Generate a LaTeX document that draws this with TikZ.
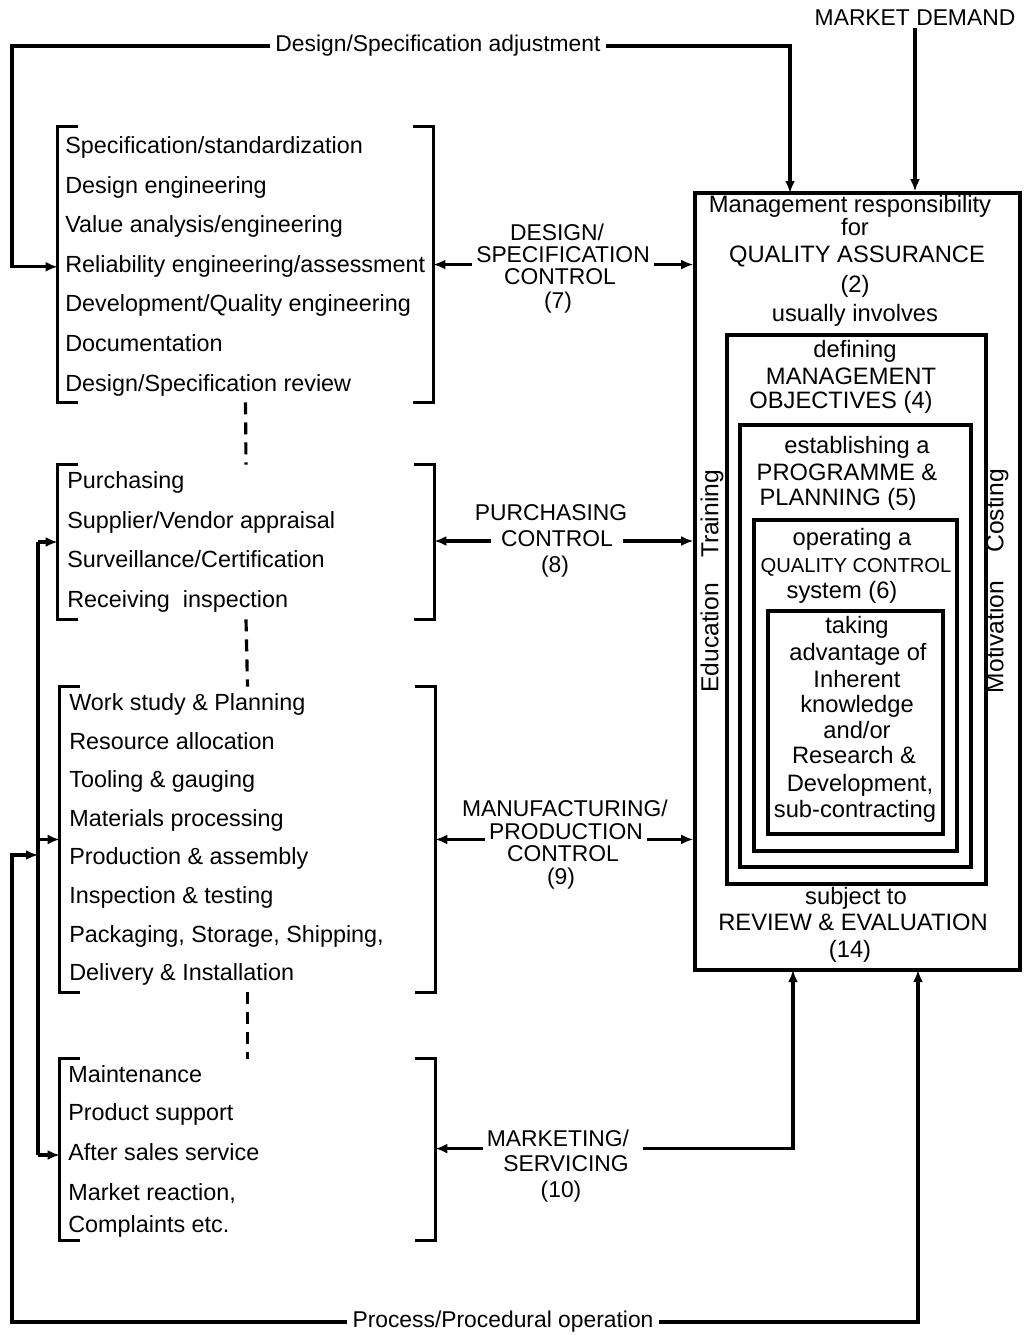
\documentclass[tikz,border=0pt]{standalone}
\usepackage{fontspec}
\setmainfont{Liberation Sans}
\usetikzlibrary{arrows.meta,fit,positioning}

\tikzset{
  txt/.style={inner sep=0pt, text height=0.72em, text depth=0.1em},
  item/.style={txt, anchor=west, font=\fontsize{13.3}{16}\selectfont},
  qtxt/.style={txt, font=\fontsize{13.5}{16}\selectfont},
  ctl/.style={txt, inner xsep=0.8mm, font=\fontsize{13}{16}\selectfont},
  lbl/.style={txt, inner xsep=1mm, font=\fontsize{13}{16}\selectfont},
  side/.style={txt, rotate=90, font=\fontsize{14}{16}\selectfont},
  box/.style={draw, line width=2pt, inner sep=0pt},
  grp/.style={inner sep=0pt},
  brk/.style={line width=2pt},
  link/.style={line width=1.8pt},
  arr/.style={line width=1.8pt, -{Latex[length=2.4mm,width=2mm]}},
  dashline/.style={line width=1.8pt, dash pattern=on 2.4mm off 1.6mm}
}

\begin{document}
\begin{tikzpicture}[x=0.2mm, y=-0.2mm]
\useasboundingbox (0,0) rectangle (1027,1335);

% quality assurance box with the nested boxes
\node[box, fit={(695,193) (1020,970)}] (qa) {};
\node[box, fit={(727,335) (986,884)}] (obj) {};
\node[box, fit={(740,425) (971,867)}] (prg) {};
\node[box, fit={(754,520) (957,851)}] (qcs) {};
\node[box, fit={(768,611) (943,834)}] (adv) {};

\foreach \y/\x/\t [count=\i] in {207/850/Management responsibility, 230/855/for,
    257/857/QUALITY ASSURANCE, 287/855/(2), 316/855/usually involves,
    352/855/defining, 379/851/MANAGEMENT, 403/841/OBJECTIVES (4),
    448/857/establishing a, 475/847/PROGRAMME \&, 500/838/PLANNING (5),
    540/852/operating a, 567/856/{\fontsize{11.5}{13}\selectfont QUALITY CONTROL},
    593/842/system (6), 628/857/taking, 655/858/advantage of, 682/857/Inherent,
    707/857/knowledge, 733/857/{and/or}, 758/854/Research \&, 786/860/{Development,},
    812/855/sub-contracting, 899/856/subject to, 925/853/REVIEW \& EVALUATION, 952/850/(14)}
  \node[qtxt] (q\i) at (\x,\y) {\t};

\node[side] (edu) at (713,638) {Education};
\node[side] (trn) at (713,514) {Training};
\node[side] (mot) at (998,637) {Motivation};
\node[side] (cst) at (998,511) {Costing};

% bracketed groups on the left
\node[grp, fit={(58,127) (433,402)}] (dsg) {};
\node[grp, fit={(58,465) (434,619)}] (pur) {};
\node[grp, fit={(60,687) (435,992)}] (mfg) {};
\node[grp, fit={(60,1059) (435,1240)}] (mkt) {};

\foreach \g in {dsg,pur,mfg,mkt}{
  \draw[brk] ([xshift=4mm]\g.north west) -- (\g.north west) -- (\g.south west) -- ++(4mm,0);
  \draw[brk] ([xshift=-4mm]\g.north east) -- (\g.north east) -- (\g.south east) -- ++(-4mm,0);
}

\foreach \t [count=\i from 0] in {Specification/standardization, Design engineering,
    Value analysis/engineering, Reliability engineering/assessment,
    Development/Quality engineering, Documentation, Design/Specification review}
  \node[item] (d\i) at (65,148+39.6*\i) {\t};

\foreach \t [count=\i from 0] in {Purchasing, Supplier/Vendor appraisal,
    Surveillance/Certification, Receiving~ inspection}
  \node[item] (p\i) at (67,483+39.7*\i) {\t};

\foreach \t [count=\i from 0] in {Work study \& Planning, Resource allocation,
    Tooling \& gauging, Materials processing, Production \& assembly,
    Inspection \& testing, {Packaging, Storage, Shipping,}, Delivery \& Installation}
  \node[item] (m\i) at (69,705+38.6*\i) {\t};

\foreach \y/\t [count=\i from 0] in {1077/Maintenance, 1115/Product support,
    1155/After sales service, 1195/{Market reaction,}, 1227/Complaints etc.}
  \node[item] (k\i) at (68,\y) {\t};

\draw[dashline] (dsg.south) -- (pur.north);
\draw[dashline] (pur.south) -- (mfg.north);
\draw[dashline] (mfg.south) -- (mkt.north);

% control labels
\node[ctl] (ctl7a) at (557,235) {DESIGN/};
\node[ctl] (ctl7) at (563,257) {SPECIFICATION};
\node[ctl] (ctl7c) at (560,279) {CONTROL};
\node[ctl] (ctl7d) at (558,303) {(7)};

\node[ctl] (ctl8a) at (551,515) {PURCHASING};
\node[ctl, inner xsep=2mm] (ctl8) at (557,541) {CONTROL};
\node[ctl] (ctl8c) at (555,567) {(8)};

\node[ctl] (ctl9a) at (565,811) {MANUFACTURING/};
\node[ctl] (ctl9) at (566,834) {PRODUCTION};
\node[ctl] (ctl9c) at (563,856) {CONTROL};
\node[ctl] (ctl9d) at (561,879) {(9)};

\node[ctl] (ctl10) at (558,1141) {MARKETING/};
\node[ctl] (ctl10b) at (566,1166) {SERVICING};
\node[ctl] (ctl10c) at (561,1192) {(10)};

\draw[arr] (ctl7.south west) -- (dsg.east |- ctl7.south west);
\draw[arr] (ctl7.south east) -- (qa.west |- ctl7.south east);
\draw[arr] (ctl8.west) -- (pur.east |- ctl8.west);
\draw[arr] (ctl8.east) -- (qa.west |- ctl8.east);
\draw[arr] (ctl9.base west) -- (mfg.east |- ctl9.base west);
\draw[arr] (ctl9.base east) -- (qa.west |- ctl9.base east);

\coordinate (up1) at (793,970);
\coordinate (up2) at (918,970);
\draw[arr] (ctl10.south west) -- (mkt.east |- ctl10.south west);
\draw[arr] ([xshift=2mm]ctl10.south east) -| (up1);

% outer loops
\node[lbl] (mkd) at (915,20) {MARKET DEMAND};
\draw[arr] (mkd.south) -- (mkd.south |- qa.north);

\node[lbl] (adj) at (438,46) {Design/Specification adjustment};
\coordinate (tl) at (12,46);
\coordinate (in1) at (790,193);
\draw[arr] (adj.west) -- (tl) |- (dsg.west |- d3);
\draw[arr] (adj.east) -| (in1);

\node[lbl] (proc) at (503,1322) {Process/Procedural operation};
\coordinate (bl) at (12,1322);
\coordinate (bt) at (38,542);
\coordinate (bj) at (38,855);
\draw[arr] (proc.east) -| (up2);
\draw[arr] (proc.west) -- (bl) |- (bj);
\draw[link] (bt) -- (bt |- k2);
\draw[arr] (bt) -- (pur.west |- bt);
\draw[arr] (bt |- mfg.west) -- (mfg.west);
\draw[arr] (bt |- k2) -- (mkt.west |- k2);
\end{tikzpicture}
\end{document}
